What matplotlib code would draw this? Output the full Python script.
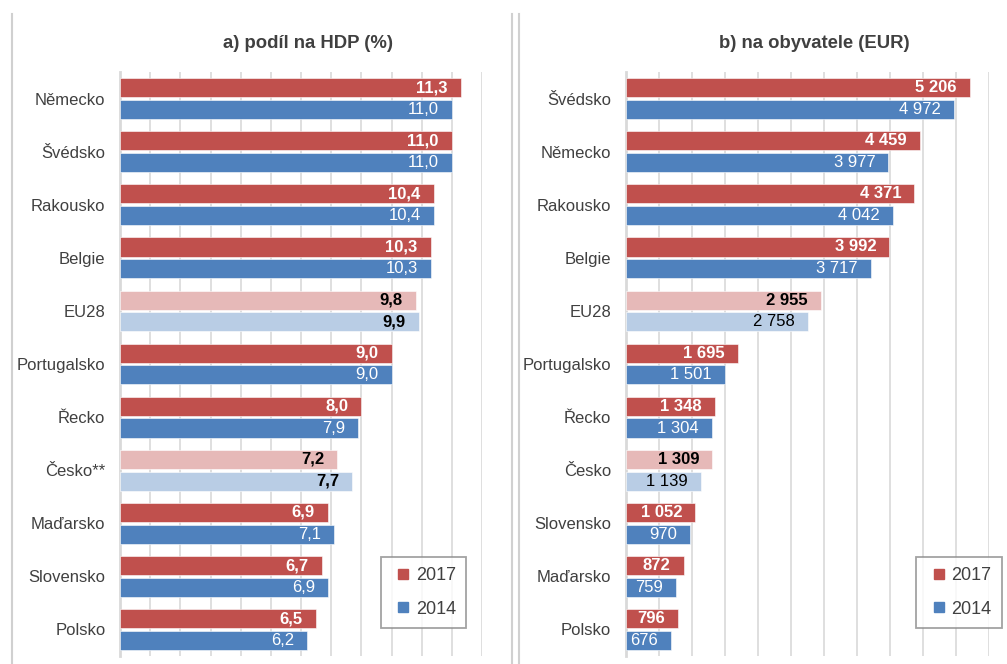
import numpy as np
import matplotlib.pyplot as plt
from matplotlib.lines import Line2D

# panel a) share of GDP (%)
countries_a = ['Německo', 'Švédsko', 'Rakousko', 'Belgie', 'EU28', 'Portugalsko',
               'Řecko', 'Česko**', 'Maďarsko', 'Slovensko', 'Polsko']
hdp_2017 = [11.3, 11.0, 10.4, 10.3, 9.8, 9.0, 8.0, 7.2, 6.9, 6.7, 6.5]
hdp_2014 = [11.0, 11.0, 10.4, 10.3, 9.9, 9.0, 7.9, 7.7, 7.1, 6.9, 6.2]

# panel b) per capita (EUR)
countries_b = ['Švédsko', 'Německo', 'Rakousko', 'Belgie', 'EU28', 'Portugalsko',
               'Řecko', 'Česko', 'Slovensko', 'Maďarsko', 'Polsko']
eur_2017 = [5206, 4459, 4371, 3992, 2955, 1695, 1348, 1309, 1052, 872, 796]
eur_2014 = [4972, 3977, 4042, 3717, 2758, 1501, 1304, 1139, 970, 759, 676]

highlight = ['EU28', 'Česko**', 'Česko']

RED, BLUE = '#C0504D', '#4F81BD'
RED_L, BLUE_L = '#E6B9B8', '#B9CDE5'
TXT = '#404040'
GRID = '#D9D9D9'

fig = plt.figure(figsize=(10.07, 6.64), dpi=100)
plt.rcParams['font.family'] = ['Liberation Sans', 'DejaVu Sans']

def fmt_a(v):
    return f'{v:.1f}'.replace('.', ',')

def fmt_b(v):
    return f'{v:,}'.replace(',', ' ')

def panel(rect, cats, v17, v14, xmax, step, fmt, title, leg_x, light_bold):
    ax = fig.add_axes(rect)
    y = np.arange(len(cats))
    h = 0.36
    c17 = [RED_L if c in highlight else RED for c in cats]
    c14 = [BLUE_L if c in highlight else BLUE for c in cats]
    b17 = ax.barh(y - h / 2 - 0.025, v17, height=h, color=c17, edgecolor='white', linewidth=0.4, zorder=3)
    b14 = ax.barh(y + h / 2 + 0.025, v14, height=h, color=c14, edgecolor='white', linewidth=0.4, zorder=3)
    for bars, vals, yr in ((b17, v17, 2017), (b14, v14, 2014)):
        for bar, v, c in zip(bars, vals, cats):
            light = c in highlight
            if yr == 2017:
                wt = 'bold'
            else:
                wt = 'bold' if (light and light_bold) else 'normal'
            ax.annotate(fmt(v), (v, bar.get_y() + bar.get_height() / 2),
                        xytext=(-9.5, 0), textcoords='offset points',
                        ha='right', va='center', fontsize=12,
                        color='black' if light else 'white',
                        fontweight=wt, zorder=4)
    ax.set_xlim(0, xmax)
    ax.set_ylim(len(cats) - 0.5, -0.5)
    ax.set_xticks(np.arange(0, xmax + step / 2, step))
    ax.xaxis.grid(True, color=GRID, linewidth=1.2)
    ax.set_axisbelow(True)
    ax.tick_params(axis='x', length=0, labelbottom=False)
    ax.tick_params(axis='y', length=0, pad=10.5)
    ax.set_yticks(y)
    ax.set_yticklabels(cats, fontsize=12, color=TXT)
    for s in ('top', 'right', 'bottom'):
        ax.spines[s].set_visible(False)
    ax.spines['left'].set_color(GRID)
    ax.spines['left'].set_linewidth(2)
    ax.set_title(title, fontsize=13.3, fontweight='bold', color=TXT, pad=17, x=0.52)
    handles = [Line2D([], [], marker='s', linestyle='', color=RED, markersize=7),
               Line2D([], [], marker='s', linestyle='', color=BLUE, markersize=7)]
    leg = ax.legend(handles, ['2017', '2014'], loc='lower left', bbox_to_anchor=(leg_x, 0.048),
                    fontsize=13, frameon=True, fancybox=False, labelspacing=0.9,
                    borderpad=0.58, handletextpad=0.05, handlelength=1.3, borderaxespad=0)
    leg.get_frame().set_edgecolor('#8C8C8C')
    leg.get_frame().set_linewidth(1.3)
    for t in leg.get_texts():
        t.set_color(TXT)
    return ax

panel([0.1192, 0.012, 0.3595, 0.8795], countries_a, hdp_2017, hdp_2014, 12, 1, fmt_a,
      'a) podíl na HDP (%)', 0.721, True)
panel([0.6216, 0.012, 0.3605, 0.8795], countries_b, eur_2017, eur_2014, 5500, 500, fmt_b,
      'b) na obyvatele (EUR)', 0.80, False)

# panel borders
for xp in (12, 512, 519):
    fig.add_artist(Line2D([xp / 1007, xp / 1007], [0, 1 - 14 / 664], transform=fig.transFigure,
                          color='#D0D0D0', linewidth=1.5))

fig.savefig('out.png', dpi=100)
